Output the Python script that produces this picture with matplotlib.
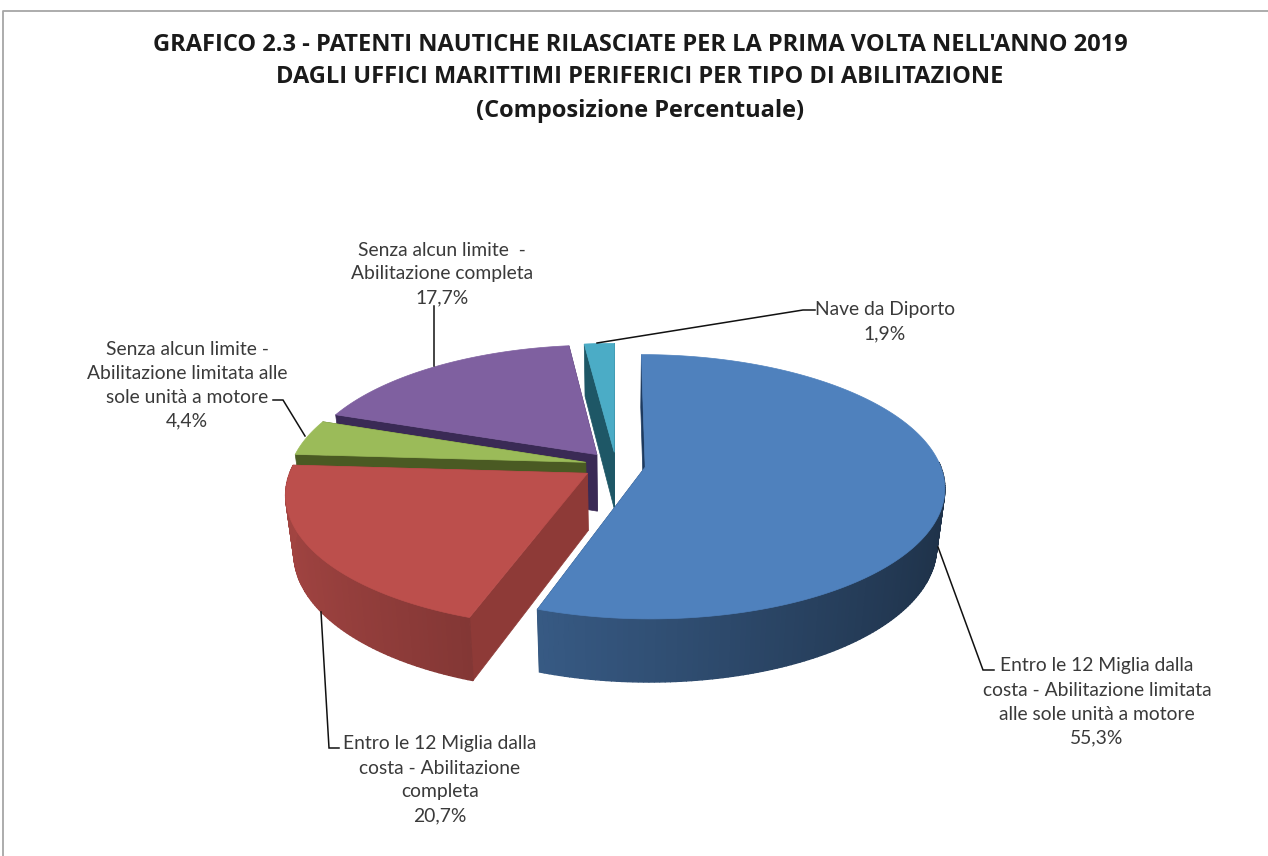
import numpy as np
import matplotlib
matplotlib.use("Agg")
import matplotlib.pyplot as plt
from matplotlib.patches import Polygon

# Loading the data, clockwise from 12 o'clock
shares = [55.3, 20.7, 4.4, 17.7, 1.9]
share_labels = ["55,3%", "20,7%", "4,4%", "17,7%", "1,9%"]
categories = [
    "Entro le 12 Miglia dalla\ncosta - Abilitazione limitata\nalle sole unità a motore",
    "Entro le 12 Miglia dalla\ncosta - Abilitazione\ncompleta",
    "Senza alcun limite -\nAbilitazione limitata alle\nsole unità a motore",
    "Senza alcun limite  -\nAbilitazione completa",
    "Nave da Diporto",
]
title_lines = [
    "GRAFICO 2.3 - PATENTI NAUTICHE RILASCIATE PER LA PRIMA VOLTA NELL'ANNO 2019",
    "DAGLI UFFICI MARITTIMI PERIFERICI PER TIPO DI ABILITAZIONE",
    "(Composizione Percentuale)",
]

top_colors = ["#4f81bd", "#bc4f4c", "#9bbb59", "#7f60a0", "#4bacc6"]
face_colors = ["#1d3a5f", "#8e3a37", "#4a5a23", "#3a2a55", "#1e5766"]

# Pie geometry, in pixels
cx, cy = 616.0, 465.0
rx, ry = 295.0, 128.6
tilt = 0.148
explode = [0.10, 0.115, 0.105, 0.105, 0.10]
depth = 57.0

# Where the labels and their leader lines sit
label_pos = [(1097, 702), (440, 780), (187, 385), (442, 274), (885, 322)]
leaders = [
    [(938, 547), (983, 670), (994, 670)],
    [(321, 612), (329, 748), (339, 748)],
    [(305, 436), (283, 400), (273, 400)],
    [(434, 366), (434, 306)],
    [(597, 343), (803, 310), (815, 310)],
]

plt.rcParams['font.family'] = ['Lato', 'DejaVu Sans']


def project(x, y):
    # Disc coordinates to the top face on screen, with some perspective
    w = 1 - tilt * y
    return cx + rx * x / w, cy + ry * y / w


def lower(X, Y):
    # The same point at the bottom of the pie
    return cx + (X - cx) * 0.975, Y + depth + 0.04 * (Y - cy)


def shade(color, factor):
    return tuple(c * factor for c in matplotlib.colors.to_rgb(color))


fig = plt.figure(figsize=(12.68, 8.56), dpi=100)
ax = fig.add_axes([0, 0, 1, 1])
ax.set_xlim(0, 1268)
ax.set_ylim(856, 0)
ax.axis('off')

# The frame of the original chart only shows on the top and left
ax.plot([2.5, 2.5, 1268], [856, 10.5, 10.5], color="#a6a6a6", lw=1.3)

for y, line in zip([45, 77, 111], title_lines):
    ax.text(640, y, line, ha='center', va='center', fontsize=17,
            fontweight='bold', color="#1a1a1a", family='Open Sans')

fractions = np.array(shares) / sum(shares)
ends = np.cumsum(fractions) * 2 * np.pi
starts = ends - fractions * 2 * np.pi

# Back slices first so the front ones cover them
for i in [4, 3, 2, 1, 0]:
    mid = (starts[i] + ends[i]) / 2
    ox, oy = explode[i] * np.sin(mid), -explode[i] * np.cos(mid)
    theta = np.linspace(starts[i], ends[i], max(int(fractions[i] * 400), 4))
    X, Y = project(ox + np.sin(theta), oy - np.cos(theta))
    ax0, ay0 = project(ox, oy)
    X2, Y2 = lower(X, Y)
    bx0, by0 = lower(ax0, ay0)

    # Cut faces
    for k in [-1, 0]:
        ax.add_patch(Polygon([(ax0, ay0), (X[k], Y[k]), (X2[k], Y2[k]), (bx0, by0)],
                             facecolor=face_colors[i], edgecolor=face_colors[i], lw=0.5))

    # Outer wall, one strip for each step of the rim, only the part facing us
    for j in range(len(theta) - 1):
        if -np.cos(theta[j]) < -0.05:
            continue
        f = 0.62 - 0.24 * np.sin(theta[j])
        c = shade(top_colors[i], f)
        ax.add_patch(Polygon([(X[j], Y[j]), (X[j + 1], Y[j + 1]),
                              (X2[j + 1], Y2[j + 1]), (X2[j], Y2[j])],
                             facecolor=c, edgecolor=c, lw=1.0))

    # Top face
    ax.add_patch(Polygon(np.column_stack([np.r_[ax0, X], np.r_[ay0, Y]]),
                         facecolor=top_colors[i], edgecolor=top_colors[i], lw=0.5))

for path in leaders:
    xs, ys = zip(*path)
    ax.plot(xs, ys, color="#111111", lw=1.1, solid_joinstyle='miter')

for name, value, (x, y) in zip(categories, share_labels, label_pos):
    ax.text(x, y, name + "\n" + value, ha='center', va='center', fontsize=13.9,
            color="#3a3a3a", linespacing=1.5)

fig.savefig("out.png", dpi=100)
